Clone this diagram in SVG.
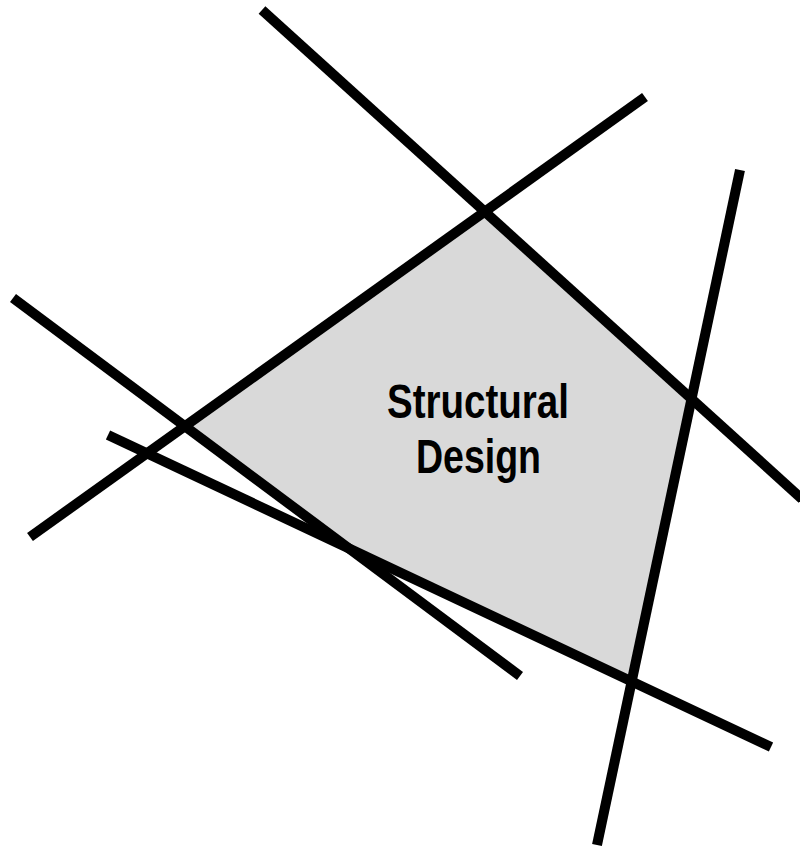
<svg xmlns="http://www.w3.org/2000/svg" width="800" height="849" viewBox="0 0 800 849">
<style>
.ln{stroke:#000;stroke-width:10;fill:none;stroke-linecap:butt}
.lbl{font-family:"Liberation Sans",Arial,sans-serif;font-weight:bold;font-size:48px;fill:#000}
</style>
<rect width="800" height="849" fill="#fff"/>
<g id="region">
<polygon points="484,212 691,400 632,681 349,548 185,426" fill="#d9d9d9"/>
<text class="lbl" x="387" y="418" textLength="182" lengthAdjust="spacingAndGlyphs">Structural</text>
<text class="lbl" x="416" y="473" textLength="125" lengthAdjust="spacingAndGlyphs">Design</text>
</g>
<g id="connectors">
<line class="ln" x1="262" y1="10" x2="802" y2="499"/>
<line class="ln" x1="30" y1="537" x2="645" y2="97"/>
<line class="ln" x1="740" y1="170" x2="597" y2="845"/>
<line class="ln" x1="13" y1="298" x2="520" y2="676"/>
<line class="ln" x1="108" y1="435" x2="771" y2="747"/>
</g>
</svg>
